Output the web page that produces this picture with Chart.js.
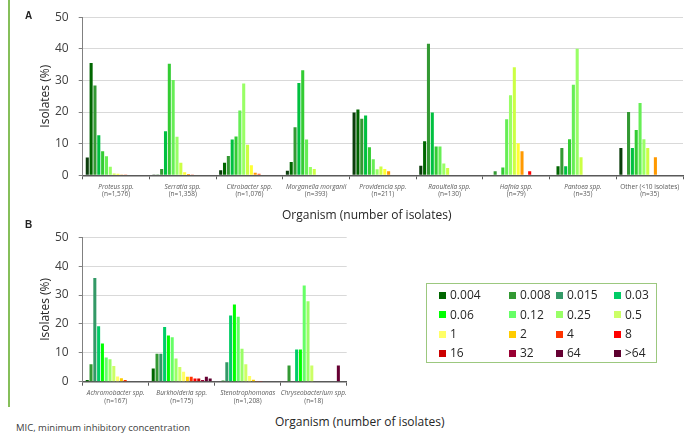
<!DOCTYPE html>
<html>
<head>
<meta charset="utf-8">
<script src="https://cdn.jsdelivr.net/npm/chart.js@4.4.1/dist/chart.umd.min.js"></script>
<style>
  html, body { margin: 0; padding: 0; background: #fff; }
  body { width: 693px; height: 433px; position: relative; overflow: hidden; font-family: 'Open Sans', sans-serif; color: #262626; }
  canvas { position: absolute; left: 0; }
  #chartA { top: 0; }
  #chartB { top: 220px; }
  .txt { position: absolute; white-space: nowrap; }
  .panel { font-family: 'Liberation Sans', Arial, sans-serif; font-weight: bold; font-size: 10px; line-height: 12px; color: #222; }
  .xtitle { font-size: 12px; line-height: 16px; color: #262626; }
  #vline { position: absolute; left: 8px; top: 0; width: 1.5px; height: 407px; background: #86bf5a; }
  #legend { position: absolute; left: 426px; top: 283px; width: 229px; height: 78px; border: 1.5px solid #9cc87f; }
  .lg { position: absolute; font-size: 12px; line-height: 16px; color: #262626; white-space: nowrap; }
  .sw { position: absolute; width: 7px; height: 7px; }
</style>
</head>
<body>
<div id="vline"></div>
<canvas id="chartA" width="693" height="200"></canvas>
<canvas id="chartB" width="693" height="190"></canvas>
<div class="txt panel" style="left:25px; top:10px;">A</div>
<div class="txt panel" style="left:25px; top:219px;">B</div>
<div class="txt xtitle" style="left:282px; top:207px;">Organism (number of isolates)</div>
<div class="txt xtitle" style="left:275px; top:414px;">Organism (number of isolates)</div>
<div class="txt" style="left:16px; top:421px; font-size:9.5px; line-height:14px; color:#404040;">MIC, minimum inhibitory concentration</div>
<div id="legend"></div>
<script>
// MIC categories (mg/L)
const micLabels = ['0.004', '0.008', '0.015', '0.03', '0.06', '0.12', '0.25', '0.5',
  '1', '2', '4', '8', '16', '32', '64', '>64'];
const micColors = ['#006600', '#339933', '#339966', '#00cc66', '#00ff00', '#66ff66', '#99ff66', '#ccff66',
  '#ffff66', '#ffcc00', '#ff3300', '#ff0000', '#cc0000', '#990033', '#660033', '#5c002e'];
// panel A bars are drawn with a slightly darker set
const micColorsA = ['#0b3d0b', '#006600', '#339933', '#00c040', '#33cc33', '#66ee55', '#99ff66', '#ccff44',
  '#ffff33', '#ff9900', '#ff5522', '#ff0000', '#cc0000', '#990033', '#660033', '#5c002e'];

// Panel A - organisms
const orgA = ['Proteus spp.', 'Serratia spp.', 'Citrobacter spp.', 'Morganella morganii', 'Providencia spp.',
  'Raoultella spp.', 'Hafnia spp.', 'Pantoea spp.', 'Other (<10 isolates)'];
const nA = ['(n=1,576)', '(n=1,358)', '(n=1,076)', '(n=393)', '(n=211)', '(n=130)', '(n=79)', '(n=35)', '(n=35)'];

// % isolates at each MIC (order of micLabels)
const proteus     = [5.6, 35.5, 28.4, 12.7, 7.6, 6.0, 2.7, 0.6, 0.5, 0.1, 0.1, 0, 0, 0, 0, 0];
const serratia    = [0.1, 0.1, 2.0, 13.9, 35.3, 30.1, 12.2, 4.0, 1.0, 0.4, 0.1, 0, 0, 0, 0, 0];
const citrobacter = [1.6, 4.0, 6.1, 11.3, 12.3, 20.5, 29.0, 9.7, 3.2, 0.8, 0.5, 0, 0, 0, 0, 0];
const morganella  = [1.4, 4.2, 15.2, 29.2, 33.2, 11.3, 2.6, 2.0, 0, 0, 0, 0, 0, 0, 0, 0];
const providencia = [19.9, 20.8, 17.9, 18.9, 8.9, 5.1, 1.9, 2.8, 2.0, 1.3, 0, 0, 0, 0, 0, 0];
const raoultella  = [3.0, 10.8, 41.6, 19.9, 9.1, 9.1, 3.7, 2.3, 0, 0, 0, 0, 0, 0, 0, 0];
const hafnia      = [0, 0, 1.3, 0, 2.5, 17.7, 25.3, 34.2, 10.1, 7.6, 0, 1.3, 0, 0, 0, 0];
const pantoea     = [0, 2.9, 8.6, 2.9, 11.4, 28.6, 40.0, 5.7, 0, 0, 0, 0, 0, 0, 0, 0];
const otherOrg    = [8.6, 0, 20.0, 8.6, 14.3, 22.9, 11.4, 8.6, 0, 5.7, 0, 0, 0, 0, 0, 0];

// Panel B - organisms
const orgB = ['Achromobacter spp.', 'Burkholderia spp.', 'Stenotrophomonas', 'Chryseobacterium spp.'];
const nB = ['(n=167)', '(n=175)', '(n=1,208)', '(n=18)'];

const achromobacter    = [0.6, 6.0, 35.9, 19.2, 13.2, 8.4, 7.8, 5.4, 1.8, 1.2, 0.6, 0, 0, 0, 0, 0];
const burkholderia     = [4.6, 9.7, 9.7, 18.9, 16.0, 15.4, 8.0, 5.1, 3.4, 1.7, 1.7, 1.1, 1.1, 0.6, 1.7, 1.1];
const stenotrophomonas = [0, 0.4, 6.7, 22.9, 26.7, 22.5, 11.4, 6.0, 2.0, 0.7, 0.1, 0.1, 0, 0, 0, 0];
const chryseobacterium = [0, 5.6, 0, 11.1, 11.1, 33.3, 27.8, 5.6, 0, 0, 0, 0, 0, 0, 5.6, 0];

const yTicks = [0, 10, 20, 30, 40, 50];

const rowsA = [proteus, serratia, citrobacter, morganella, providencia, raoultella, hafnia, pantoea, otherOrg];
const rowsB = [achromobacter, burkholderia, stenotrophomonas, chryseobacterium];

Chart.defaults.font.family = "'Open Sans', sans-serif";
Chart.defaults.color = '#404040';

// one dataset per MIC value, built from the organism rows
function buildDatasets(rows, colors) {
  return micLabels.map((mic, i) => ({
    label: mic,
    data: rows.map(r => r[i]),
    backgroundColor: colors[i],
    borderWidth: 0,
    barPercentage: 0.8,
    categoryPercentage: 0.92
  }));
}

// two-line category labels: name in italics, count upright
const catLabels = {
  id: 'catLabels',
  afterDraw(chart, args, opts) {
    const { ctx, chartArea } = chart;
    const xs = chart.scales.x;
    ctx.save();
    ctx.fillStyle = '#595959';
    ctx.textAlign = 'center';
    ctx.textBaseline = 'middle';
    opts.names.forEach((name, i) => {
      const x = xs.getPixelForValue(i);
      ctx.font = (name.startsWith('Other') ? '' : 'italic ') + '6.5px "Open Sans"';
      ctx.fillText(name, x, chartArea.bottom + 11.4);
      ctx.font = '6.5px "Open Sans"';
      ctx.fillText(opts.counts[i], x, chartArea.bottom + 19);
    });
    ctx.restore();
  }
};

function makeOptions(names, counts, padRight, xHeight) {
  return {
    responsive: false,
    animation: false,
    layout: { padding: { left: 30, right: padRight, top: 14.3, bottom: 0 } },
    plugins: {
      legend: { display: false },
      tooltip: { enabled: false },
      catLabels: { names: names, counts: counts }
    },
    scales: {
      x: {
        grid: { offset: true, drawOnChartArea: false, tickLength: 4, tickColor: '#595959' },
        border: { color: '#595959', width: 1.5 },
        ticks: { display: false },
        afterFit: s => { s.height = xHeight; }
      },
      y: {
        min: 0, max: 50,
        afterBuildTicks: s => { s.ticks = yTicks.map(v => ({ value: v })); },
        grid: { color: '#d9d9d9', tickLength: 4, tickColor: '#808080' },
        border: { color: '#808080', width: 1 },
        ticks: { font: { size: 12 }, color: '#404040', padding: 10 },
        title: { display: true, text: 'Isolates (%)', font: { size: 12 }, color: '#262626', padding: { top: 8, bottom: 0 } },
        afterFit: s => { s.width = 52.7; }
      }
    }
  };
}

new Chart(document.getElementById('chartA'), {
  type: 'bar',
  data: { labels: orgA, datasets: buildDatasets(rowsA, micColorsA) },
  options: makeOptions(orgA, nA, 10, 24.7),
  plugins: [catLabels]
});

new Chart(document.getElementById('chartB'), {
  type: 'bar',
  data: { labels: orgB, datasets: buildDatasets(rowsB, micColors) },
  options: makeOptions(orgB, nB, 346.3, 28.3),
  plugins: [catLabels]
});

// legend box, 4 columns x 4 rows
const legendColX = [12, 82, 129, 187];
const legendRowY = [11.3, 30.7, 50, 69];
const legendBox = document.getElementById('legend');
micLabels.forEach((mic, i) => {
  const cx = legendColX[i % 4], cy = legendRowY[Math.floor(i / 4)];
  const sw = document.createElement('div');
  sw.className = 'sw';
  sw.style.left = cx + 'px';
  sw.style.top = (cy - 3.5) + 'px';
  sw.style.background = micColors[i];
  legendBox.appendChild(sw);
  const t = document.createElement('div');
  t.className = 'lg';
  t.style.left = (cx + 11) + 'px';
  t.style.top = (cy - 8) + 'px';
  t.textContent = mic;
  legendBox.appendChild(t);
});
</script>
</body>
</html>
